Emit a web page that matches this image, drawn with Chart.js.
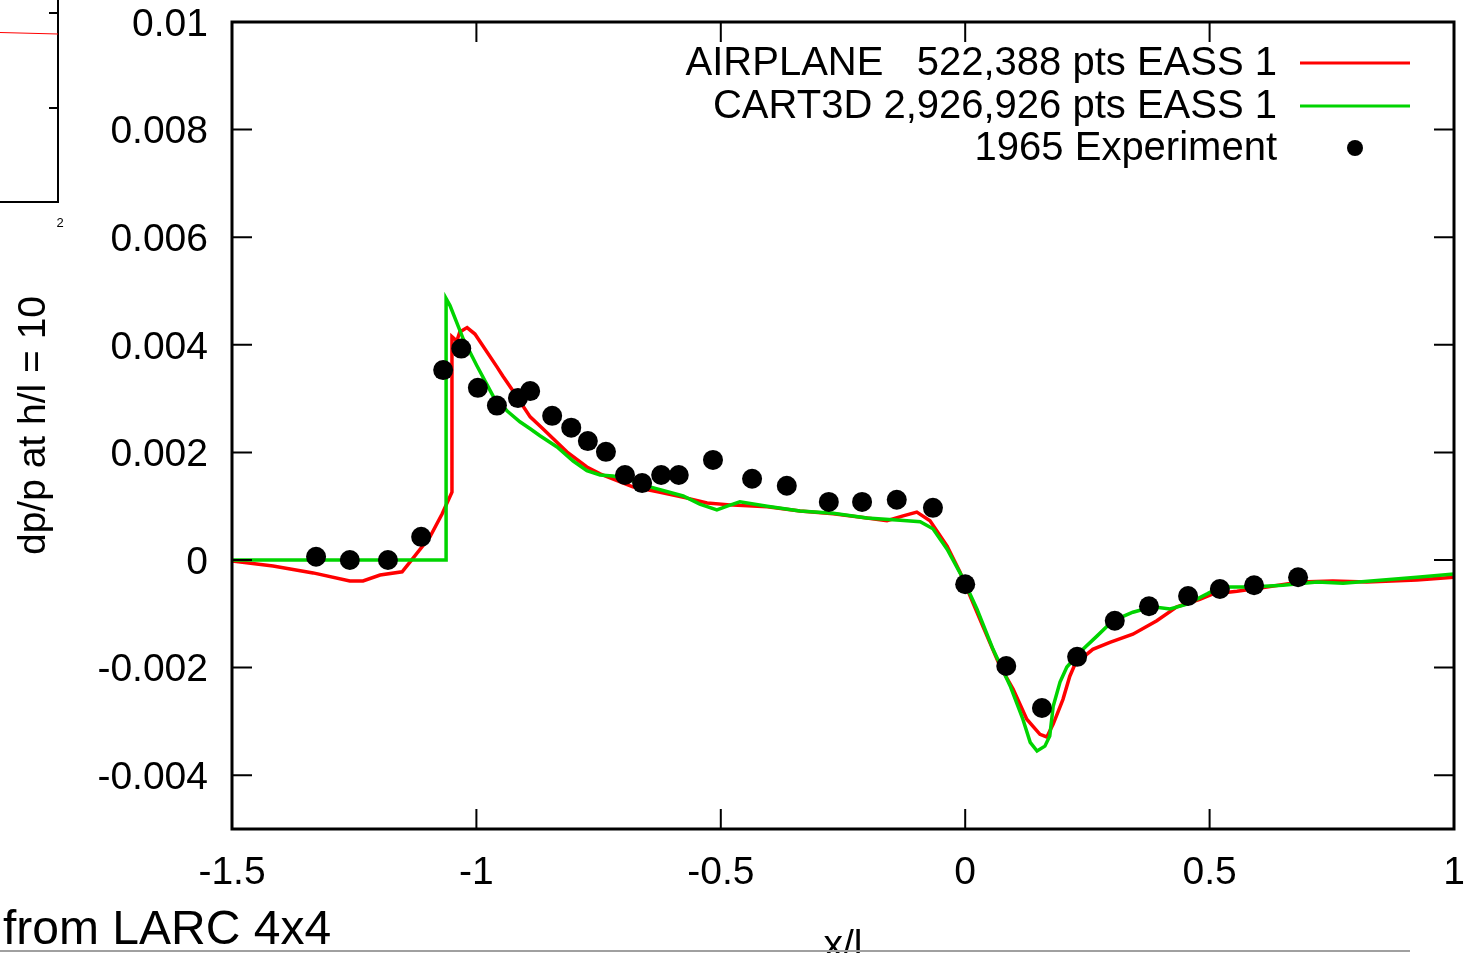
<!DOCTYPE html>
<html>
<head>
    <title>dp/p at h/l = 10</title>
    <script src="https://cdn.jsdelivr.net/npm/chart.js"></script>
    <style>
        html, body { margin: 0; padding: 0; background: #fff; overflow: hidden; }
    </style>
</head>
<body>
    <canvas id="dpChart" width="1466" height="953"></canvas>
    <script>
        // AIRPLANE 522,388 pts (red)
        const airplaneX = [-1.5, -1.416, -1.334, -1.259, -1.232, -1.197, -1.152, -1.136, -1.095, -1.070,
            -1.050, -1.050, -1.040, -1.034, -1.019, -1.003, -0.958, -0.946, -0.925, -0.890,
            -0.864, -0.815, -0.774, -0.747, -0.680, -0.624, -0.569, -0.528, -0.475, -0.405,
            -0.338, -0.270, -0.201, -0.160, -0.127, -0.099, -0.072, -0.037, -0.011, 0.004,
            0.036, 0.071, 0.098, 0.126, 0.153, 0.167, 0.180, 0.200, 0.214, 0.225,
            0.261, 0.296, 0.343, 0.392, 0.433, 0.480, 0.507, 0.556, 0.617, 0.685,
            0.752, 0.822, 0.924, 1.0];
        const airplaneY = [-0.00002, -0.00011, -0.00024, -0.00039, -0.00039, -0.00028, -0.00022, -0.00004, 0.00043, 0.00086,
            0.00126, 0.00415, 0.00407, 0.00424, 0.00432, 0.0042, 0.00359, 0.00342, 0.00314, 0.00266,
            0.00244, 0.00201, 0.00173, 0.0016, 0.00136, 0.00126, 0.00115, 0.00106, 0.00102, 0.00099,
            0.00091, 0.00086, 0.00078, 0.00073, 0.00082, 0.00089, 0.00073, 0.00026, -0.00022, -0.00054,
            -0.00123, -0.00197, -0.0024, -0.00296, -0.00324, -0.00329, -0.00305, -0.00259, -0.00216, -0.00193,
            -0.00166, -0.00153, -0.00138, -0.00113, -0.00087, -0.00073, -0.00063, -0.00058, -0.0005, -0.00041,
            -0.00039, -0.00041, -0.00037, -0.00032];

        // CART3D 2,926,926 pts (green)
        const cart3dX = [-1.5, -1.062, -1.062, -1.054, -1.027, -0.999, -0.966, -0.937, -0.911, -0.890,
            -0.870, -0.835, -0.802, -0.774, -0.747, -0.721, -0.692, -0.645, -0.577, -0.543,
            -0.508, -0.487, -0.461, -0.405, -0.338, -0.270, -0.201, -0.133, -0.092, -0.066,
            -0.037, -0.007, 0.024, 0.057, 0.092, 0.118, 0.133, 0.147, 0.163, 0.173,
            0.180, 0.194, 0.208, 0.235, 0.270, 0.302, 0.343, 0.384, 0.419, 0.454,
            0.495, 0.521, 0.583, 0.650, 0.720, 0.773, 0.855, 0.924, 1.0];
        const cart3dY = [0, 0, 0.00486, 0.00473, 0.00411, 0.00361, 0.00305, 0.00277, 0.00257, 0.00244,
            0.00231, 0.0021, 0.00184, 0.00166, 0.00158, 0.00156, 0.00151, 0.00136, 0.00119, 0.00104,
            0.00093, 0.001, 0.00108, 0.001, 0.00091, 0.00087, 0.00078, 0.00074, 0.00071, 0.00058,
            0.0002, -0.0003, -0.00091, -0.00166, -0.00234, -0.00296, -0.00339, -0.00355, -0.00346, -0.00327,
            -0.00272, -0.00227, -0.00199, -0.00171, -0.00141, -0.00113, -0.00097, -0.00087, -0.00091, -0.00082,
            -0.00063, -0.0005, -0.0005, -0.00047, -0.00041, -0.00043, -0.00037, -0.00032, -0.00026];

        // 1965 Experiment (dots)
        const expX = [-1.328, -1.259, -1.181, -1.113, -1.068, -1.031, -0.997, -0.958, -0.915, -0.890,
            -0.845, -0.806, -0.772, -0.735, -0.696, -0.661, -0.622, -0.586, -0.516, -0.436,
            -0.365, -0.279, -0.211, -0.140, -0.066, 0.0, 0.084, 0.157, 0.229, 0.306,
            0.376, 0.456, 0.521, 0.591, 0.681];
        const expY = [0.00006, 0.0, 0.0, 0.00043, 0.00353, 0.00393, 0.0032, 0.00287, 0.00301, 0.00314,
            0.00268, 0.00246, 0.00221, 0.00201, 0.00158, 0.00143, 0.00158, 0.00158, 0.00186, 0.00151,
            0.00138, 0.00108, 0.00108, 0.00112, 0.00097, -0.00045, -0.00197, -0.00275, -0.0018, -0.00113,
            -0.00086, -0.00067, -0.00054, -0.00047, -0.00032];

        const xTicks = [-1.5, -1, -0.5, 0, 0.5, 1];
        const yTicks = [-0.004, -0.002, 0, 0.002, 0.004, 0.006, 0.008, 0.01];

        const FONT = '"Liberation Sans", Arial, Helvetica, sans-serif';
        const toPoints = (xs, ys) => xs.map((x, i) => ({ x: x, y: ys[i] }));
        const fmt = v => String(Number(v.toFixed(4)));

        // gnuplot style frame with inward ticks on all four sides
        const framePlugin = {
            id: 'frame',
            afterDatasetsDraw(chart) {
                const { ctx, chartArea: a, scales: { x, y } } = chart;
                const tl = 20;
                ctx.save();
                ctx.strokeStyle = '#000';
                ctx.lineWidth = 2;
                ctx.beginPath();
                xTicks.forEach(v => {
                    const px = x.getPixelForValue(v);
                    ctx.moveTo(px, a.bottom); ctx.lineTo(px, a.bottom - tl);
                    ctx.moveTo(px, a.top); ctx.lineTo(px, a.top + tl);
                });
                yTicks.forEach(v => {
                    const py = y.getPixelForValue(v);
                    ctx.moveTo(a.left, py); ctx.lineTo(a.left + tl, py);
                    ctx.moveTo(a.right, py); ctx.lineTo(a.right - tl, py);
                });
                ctx.stroke();
                ctx.lineWidth = 3;
                ctx.strokeRect(a.left, a.top, a.right - a.left, a.bottom - a.top);
                ctx.restore();
            }
        };

        // legend: text right aligned, sample to the right
        const keyPlugin = {
            id: 'key',
            afterDraw(chart) {
                const ctx = chart.ctx;
                const rows = [63, 106, 148];
                ctx.save();
                ctx.font = '40px ' + FONT;
                ctx.textAlign = 'right';
                ctx.textBaseline = 'middle';
                chart.data.datasets.forEach((ds, i) => {
                    const yy = rows[i];
                    ctx.fillStyle = '#000';
                    ctx.fillText(ds.label, 1277, yy + 1);
                    if (ds.showLine) {
                        ctx.strokeStyle = ds.borderColor;
                        ctx.lineWidth = 3;
                        ctx.beginPath();
                        ctx.moveTo(1300, yy);
                        ctx.lineTo(1410, yy);
                        ctx.stroke();
                    } else {
                        ctx.fillStyle = ds.pointBackgroundColor;
                        ctx.beginPath();
                        ctx.arc(1355, yy, 8, 0, Math.PI * 2);
                        ctx.fill();
                    }
                });
                ctx.restore();
            }
        };

        // bits of the neighbouring figure and caption in the page
        const pagePlugin = {
            id: 'page',
            afterDraw(chart) {
                const ctx = chart.ctx;
                ctx.save();
                ctx.strokeStyle = '#000';
                ctx.lineWidth = 2;
                ctx.beginPath();
                ctx.moveTo(58, 0); ctx.lineTo(58, 202); ctx.lineTo(0, 202);
                ctx.moveTo(49, 13); ctx.lineTo(58, 13);
                ctx.moveTo(49, 108); ctx.lineTo(58, 108);
                ctx.stroke();
                ctx.strokeStyle = '#ff0000';
                ctx.lineWidth = 1;
                ctx.beginPath();
                ctx.moveTo(0, 32.5); ctx.lineTo(58, 34);
                ctx.stroke();
                ctx.fillStyle = '#000';
                ctx.font = '13px ' + FONT;
                ctx.textAlign = 'center';
                ctx.textBaseline = 'middle';
                ctx.fillText('2', 60, 223);
                ctx.font = '48px ' + FONT;
                ctx.textAlign = 'left';
                ctx.textBaseline = 'alphabetic';
                ctx.fillText('from LARC 4x4', 3, 944);
                ctx.strokeStyle = '#a0a0a0';
                ctx.lineWidth = 2;
                ctx.beginPath();
                ctx.moveTo(0, 951); ctx.lineTo(1410, 951);
                ctx.stroke();
                ctx.restore();
            }
        };

        const ctx = document.getElementById('dpChart').getContext('2d');
        const dpChart = new Chart(ctx, {
            type: 'scatter',
            data: {
                datasets: [
                    {
                        label: 'AIRPLANE   522,388 pts EASS 1',
                        data: toPoints(airplaneX, airplaneY),
                        showLine: true,
                        borderColor: '#ff0000',
                        borderWidth: 3.5,
                        pointRadius: 0,
                        tension: 0,
                        order: 2,
                    },
                    {
                        label: 'CART3D 2,926,926 pts EASS 1',
                        data: toPoints(cart3dX, cart3dY),
                        showLine: true,
                        borderColor: '#00d400',
                        borderWidth: 3.5,
                        pointRadius: 0,
                        tension: 0,
                        order: 1,
                    },
                    {
                        label: '1965 Experiment',
                        data: toPoints(expX, expY),
                        showLine: false,
                        pointRadius: 10,
                        pointBackgroundColor: '#000',
                        pointBorderWidth: 0,
                        borderColor: '#000',
                        order: 0,
                    },
                ],
            },
            options: {
                responsive: false,
                animation: false,
                layout: { padding: { top: 22, right: 12, bottom: 0, left: 0 } },
                plugins: {
                    legend: { display: false },
                    tooltip: { enabled: false },
                },
                scales: {
                    x: {
                        type: 'linear',
                        min: -1.5,
                        max: 1,
                        afterBuildTicks: s => { s.ticks = xTicks.map(v => ({ value: v })); },
                        afterFit: s => { s.height = 124; s.paddingLeft = 0; s.paddingRight = 0; },
                        grid: { display: false, drawTicks: false },
                        border: { display: false },
                        ticks: {
                            autoSkip: false,
                            maxRotation: 0,
                            padding: 25,
                            color: '#000',
                            font: { family: FONT, size: 39, lineHeight: 1 },
                            callback: v => fmt(v),
                        },
                        title: {
                            display: true,
                            text: 'x/l',
                            color: '#000',
                            font: { family: FONT, size: 39 },
                            padding: { top: 0, bottom: -17 },
                        },
                    },
                    y: {
                        type: 'linear',
                        min: -0.005,
                        max: 0.01,
                        afterBuildTicks: s => { s.ticks = yTicks.map(v => ({ value: v })); },
                        afterFit: s => { s.width = 232; s.paddingTop = 0; s.paddingBottom = 0; },
                        grid: { display: false, drawTicks: false },
                        border: { display: false },
                        ticks: {
                            padding: 24,
                            labelOffset: 3,
                            color: '#000',
                            font: { family: FONT, size: 39, lineHeight: 1 },
                            callback: v => fmt(v),
                        },
                        title: {
                            display: true,
                            text: 'dp/p at h/l = 10',
                            color: '#000',
                            font: { family: FONT, size: 39 },
                            padding: { top: 11, bottom: 0 },
                        },
                    },
                },
            },
            plugins: [framePlugin, keyPlugin, pagePlugin],
        });
    </script>
</body>
</html>
